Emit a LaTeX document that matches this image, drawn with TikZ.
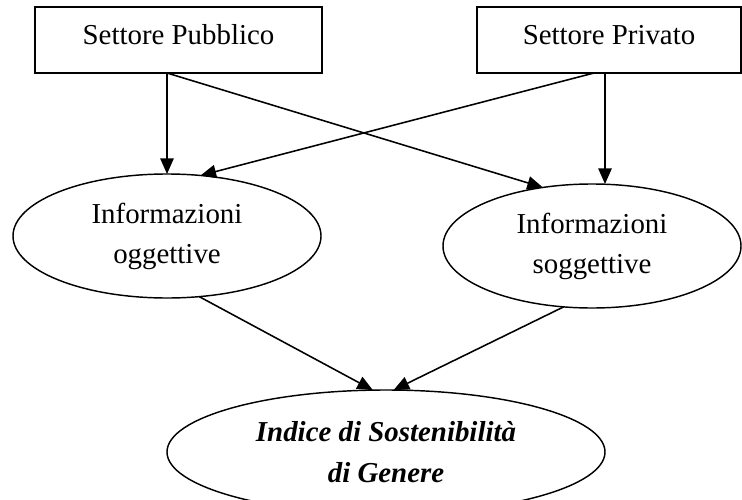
\documentclass[tikz,border=0pt]{standalone}
\usepackage{fontspec}
\setmainfont{Liberation Serif}
\usepackage{tikz}
\usetikzlibrary{positioning}
\usetikzlibrary{arrows.meta}
\usetikzlibrary{shapes.geometric}
\usetikzlibrary{calc}
\tikzset{
   sectorBox/.style={draw=black, line width=0.65pt, rectangle, minimum height=29.7pt, inner sep=0mm, outer sep=0mm, text height=9pt, text depth=4.9pt, font=\fontsize{13}{18}\selectfont},
   infoEllipse/.style={draw=black, line width=0.65pt, ellipse, minimum height=55.8pt, inner sep=0mm, outer sep=0mm, align=center, font=\fontsize{13}{18}\selectfont},
   indexEllipse/.style={infoEllipse, font=\fontsize{13}{18.5}\selectfont\bfseries\itshape},
   lineWithTip/.style={draw=black, line width=0.7pt, -{Triangle[length=7pt,width=6pt]}},
}

\begin{document}
\begin{tikzpicture}[x=0.45pt,y=-0.45pt]
					\clip (0,0) rectangle (742,499);
					%
					\node[sectorBox, minimum width=129.15pt] (pubblico) at (178.5,40) {Settore Pubblico};
					\node[sectorBox, minimum width=118.8pt] (privato) at (609,40) {Settore Privato};
					%
					\node[infoEllipse, minimum width=138.6pt] (oggettive) at (167,236) {Informazioni\\oggettive};
					\node[infoEllipse, minimum width=134.1pt] (soggettive) at (592,246) {Informazioni\\soggettive};
					\node[indexEllipse, minimum width=197.1pt] (indice) at (386,452) {Indice di Sostenibilità\\di Genere};
					%
					% feet of the arrows under the two boxes
					\coordinate (pubblicoFoot) at (pubblico.south -| oggettive.north);
					\coordinate (privatoFoot) at ([xshift=-1.8pt]privato.south);
					\coordinate (privatoCross) at ([xshift=-6.75pt]privato.south);
					%
					\draw[lineWithTip] (pubblicoFoot) -- (oggettive.north);
					\draw[lineWithTip] (pubblicoFoot) -- (soggettive.130);
					\draw[lineWithTip] (privatoFoot) -- (privatoFoot |- soggettive.north);
					\draw[lineWithTip] (privatoCross) -- (oggettive.61);
					%
					\draw[lineWithTip] (oggettive.-62) -- (indice.102);
					\draw[lineWithTip] (soggettive.245.7) -- (indice.83.6);
				\end{tikzpicture}
\end{document}
